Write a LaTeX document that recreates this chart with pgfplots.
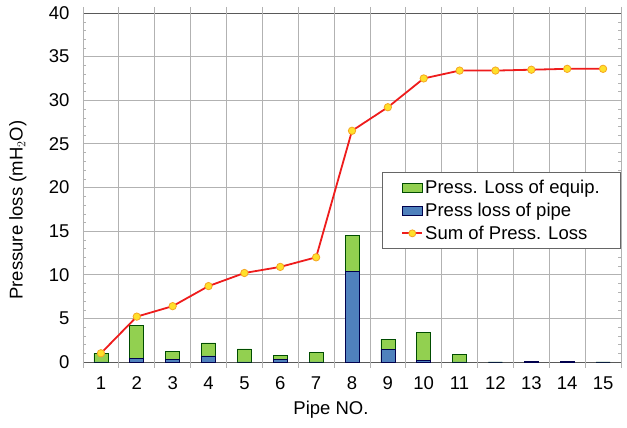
\documentclass[border=0pt]{standalone}
\usepackage{pgfplots}
\pgfplotsset{compat=1.18}
\usepackage{fontspec}
\setmainfont{Liberation Sans}
\definecolor{eqgreen}{HTML}{92D050}
\definecolor{pipeblue}{HTML}{4F81BD}
\definecolor{linered}{HTML}{EE1C1C}
\definecolor{mkyellow}{HTML}{FFE02A}
\definecolor{mkorange}{HTML}{F5A623}
\begin{document}
\begin{tikzpicture}
\begin{axis}[
  name=ax,
  at={(0,0)}, anchor=south west,
  scale only axis,
  width=538pt, height=349pt,
  xmin=0.5, xmax=15.5, ymin=0, ymax=40,
  xtick={1,...,15},
  ytick={0,5,...,40},
  minor y tick num=4,
  xmajorgrids=false, ymajorgrids=true,
  extra x ticks={0.5,1.5,...,15.5},
  extra x tick labels={},
  extra x tick style={grid=major, tick align=outside, major tick length=6pt,
     tick style={draw=gray!60, line width=0.8pt}},
  grid style={gray!60, line width=0.8pt},
  axis line style={gray!70!black, line width=0.8pt},
  major tick length=0pt,
  minor tick length=3pt,
  minor tick style={gray!60},
  tick align=inside,
  /pgf/number format/assume math mode=true,
  tick label style={font=\fontsize{18.5}{21}\selectfont},
  yticklabel style={xshift=-10pt},
  xticklabel style={yshift=-11pt},
  xlabel={Pipe NO.},
  ylabel={Pressure loss (mH$_2$O)},
  label style={font=\fontsize{18.5}{21}\selectfont},
  xlabel style={at={(axis description cs:0.461,-0.1375)}, anchor=center},
  ylabel style={at={(axis description cs:-0.121,0.435)}, anchor=center},
  legend style={at={(rel axis cs:1.0,0.545)}, anchor=north east,
    font=\fontsize{18.5}{21}\selectfont, draw=gray!80!black, line width=0.6pt,
    inner xsep=19pt, inner ysep=6pt, row sep=4pt, cells={anchor=west}},
  legend cell align=left,
  clip=false,
]
\addplot[ybar, bar width=14pt, bar shift=0pt, fill=eqgreen, draw=black!70!green, line width=0.6pt,
  legend image code/.code={\draw[fill=eqgreen, draw=black!70!green, line width=0.6pt] (0pt,-4.5pt) rectangle (20pt,4.5pt);}]
coordinates {(1,1.0) (2,4.2) (3,1.2) (4,2.2) (5,1.5) (6,0.8) (7,1.1) (8,14.5) (9,2.6) (10,3.4) (11,0.9) (12,0) (13,0.1) (14,0.1) (15,0)};
\addlegendentry{Press. Loss of equip.}
\addplot[ybar, bar width=14pt, bar shift=0pt, fill=pipeblue, draw=black!70!blue, line width=0.6pt,
  legend image code/.code={\draw[fill=pipeblue, draw=black!70!blue, line width=0.6pt] (0pt,-4.5pt) rectangle (20pt,4.5pt);}]
coordinates {(1,0) (2,0.4) (3,0.3) (4,0.7) (5,0) (6,0.3) (7,0) (8,10.4) (9,1.4) (10,0.2) (11,0) (12,0) (13,0.1) (14,0.1) (15,0)};
\addlegendentry{Press loss of pipe}
\addplot[linered, line width=1.8pt, mark=*, mark size=3.7pt, mark options={fill=mkyellow, draw=mkorange, line width=0.8pt},
  legend image code/.code={\draw[linered, line width=1.8pt] (0pt,0pt) -- (20pt,0pt); \draw[fill=mkyellow, draw=mkorange, line width=0.8pt] (10pt,0pt) circle (3.5pt);}]
coordinates {(1,1.0) (2,5.2) (3,6.4) (4,8.7) (5,10.2) (6,10.9) (7,12.0) (8,26.5) (9,29.2) (10,32.5) (11,33.4) (12,33.4) (13,33.5) (14,33.6) (15,33.6)};
\addlegendentry{Sum of Press. Loss}
\end{axis}
\pgfresetboundingbox
\path[use as bounding box] (-83pt,-66pt) rectangle (544pt,362pt);
\end{tikzpicture}
\end{document}
